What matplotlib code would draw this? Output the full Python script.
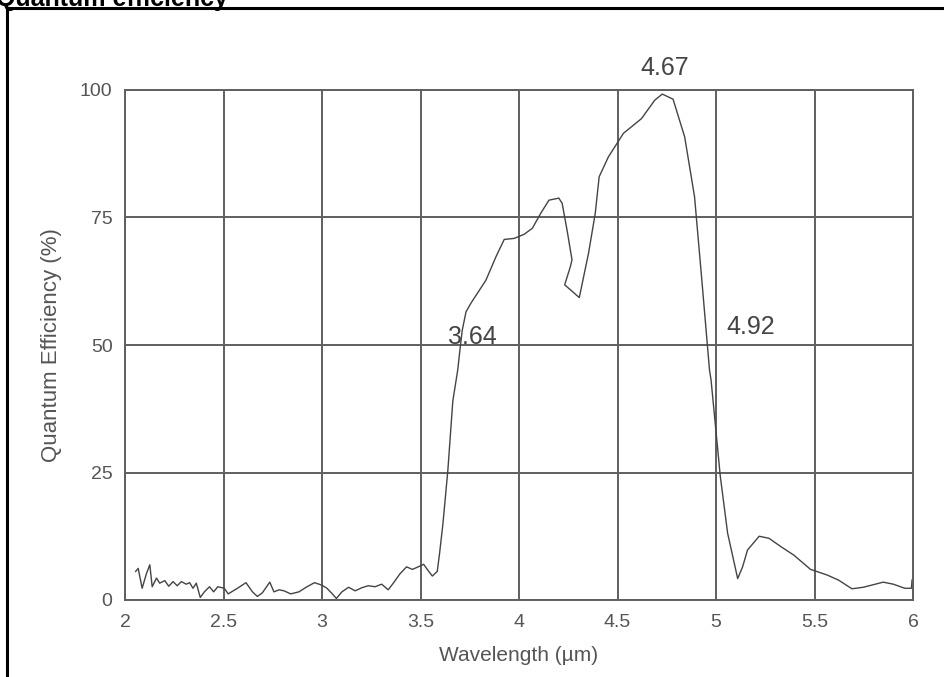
import matplotlib
matplotlib.use("Agg")
import matplotlib.pyplot as plt
from matplotlib.patches import Rectangle

plt.rcParams['font.family'] = ['Liberation Sans', 'DejaVu Sans']

# spectral response
wavelength = [2.054, 2.067, 2.087, 2.109, 2.126, 2.138, 2.160, 2.176, 2.202, 2.222,
              2.244, 2.265, 2.286, 2.311, 2.328, 2.345, 2.362, 2.382, 2.403, 2.429,
              2.450, 2.471, 2.504, 2.524, 2.571, 2.614, 2.647, 2.672, 2.697, 2.735,
              2.756, 2.782, 2.807, 2.841, 2.883, 2.924, 2.962, 3.000, 3.025, 3.050,
              3.073, 3.101, 3.135, 3.168, 3.202, 3.235, 3.269, 3.303, 3.336, 3.362,
              3.395, 3.429, 3.459, 3.488, 3.516, 3.538, 3.560, 3.585, 3.597, 3.614,
              3.639, 3.664, 3.689, 3.700, 3.712, 3.731, 3.756, 3.832, 3.883, 3.925,
              3.975, 4.026, 4.068, 4.110, 4.152, 4.202, 4.219, 4.244, 4.269, 4.261,
              4.232, 4.306, 4.353, 4.387, 4.407, 4.454, 4.530, 4.622, 4.689, 4.727,
              4.782, 4.841, 4.891, 4.925, 4.967, 4.975, 5.022, 5.059, 5.110, 5.135,
              5.160, 5.219, 5.269, 5.328, 5.395, 5.480, 5.564, 5.622, 5.690, 5.748,
              5.849, 5.900, 5.958, 5.992, 5.995]
qe = [5.6, 6.2, 2.3, 5.2, 6.9, 2.6, 4.3, 3.3, 3.8, 2.7,
      3.6, 2.8, 3.6, 3.1, 3.4, 2.3, 3.3, 0.5, 1.6, 2.6,
      1.6, 2.6, 2.3, 1.2, 2.3, 3.4, 1.6, 0.7, 1.4, 3.5,
      1.6, 2.0, 1.8, 1.2, 1.6, 2.6, 3.4, 2.9, 2.3, 1.3,
      0.3, 1.6, 2.5, 1.8, 2.4, 2.8, 2.6, 3.1, 2.0, 3.3,
      5.1, 6.5, 6.0, 6.5, 7.0, 5.8, 4.7, 5.6, 9.2, 15.0,
      25.5, 39.0, 45.1, 49.0, 52.9, 56.5, 58.2, 62.7, 67.3, 70.7,
      70.9, 71.7, 72.9, 75.8, 78.4, 78.8, 77.8, 72.5, 66.7, 65.4,
      61.8, 59.3, 68.0, 75.8, 83.0, 86.9, 91.5, 94.4, 98.0, 99.2,
      98.2, 90.8, 79.1, 64.1, 45.1, 43.1, 24.2, 13.1, 4.2, 6.5,
      9.8, 12.5, 12.1, 10.5, 8.8, 6.0, 4.9, 3.9, 2.2, 2.5,
      3.5, 3.1, 2.3, 2.3, 3.9]

x_ticks = [2, 2.5, 3, 3.5, 4, 4.5, 5, 5.5, 6]
x_tick_labels = ['2', '2.5', '3', '3.5', '4', '4.5', '5', '5.5', '6']
y_ticks = [0, 25, 50, 75, 100]

# marked wavelengths: label, x, y
marks = [('3.64', 3.765, 51.6), ('4.67', 4.738, 104.3), ('4.92', 5.177, 53.5)]

grid_col = '#5f5f5f'
text_col = '#555555'

fig = plt.figure(figsize=(9.44, 6.77), dpi=100)
fig.patch.set_facecolor('white')

# outer frame and the title, whose top is cut off by the page edge
fig.add_artist(Rectangle((7 / 944, -0.05), 1.1, 1 - 8 / 677 + 0.05,
                         transform=fig.transFigure, fill=False,
                         edgecolor='black', linewidth=2.2))
fig.text(-0.004, 1 - 6 / 677, 'Quantum efficiency', fontsize=18,
         fontweight='bold', va='baseline', ha='left', color='black')

ax = fig.add_axes([125 / 944, 1 - 600 / 677, 788 / 944, 510 / 677])
ax.plot(wavelength, qe, color='#444444', linewidth=1.0, clip_on=False)

ax.set_xlim(2, 6)
ax.set_ylim(0, 100)
ax.set_xticks(x_ticks)
ax.set_xticklabels(x_tick_labels)
ax.set_yticks(y_ticks)
ax.grid(True, color=grid_col, linewidth=1.4)
ax.set_axisbelow(True)
for s in ax.spines.values():
    s.set_color(grid_col)
    s.set_linewidth(1.4)
ax.tick_params(length=0, labelsize=14, colors=text_col)
ax.tick_params(axis='x', pad=10)
ax.tick_params(axis='y', pad=9)

ax.set_xlabel('Wavelength (µm)', fontsize=15, color=text_col, labelpad=11)
ax.set_ylabel('Quantum Efficiency (%)', fontsize=16, color=text_col, labelpad=13)

for lbl, mx, my in marks:
    ax.text(mx, my, lbl, fontsize=18, color='#444444', ha='center', va='center',
            clip_on=False)

fig.savefig('out.png', dpi=100)
